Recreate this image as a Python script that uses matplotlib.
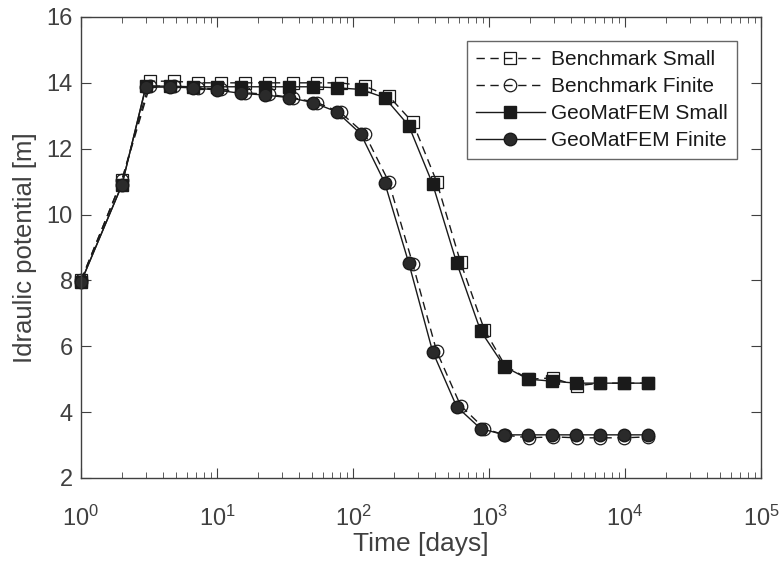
import matplotlib.pyplot as plt

plt.rcParams['font.family'] = ['Liberation Sans', 'DejaVu Sans']
plt.rcParams['mathtext.fontset'] = 'custom'
plt.rcParams['mathtext.rm'] = 'Liberation Sans'
plt.rcParams['mathtext.it'] = 'Liberation Sans:italic'
plt.rcParams['mathtext.bf'] = 'Liberation Sans:bold'

# time steps [days]
t_fem = [1, 2, 3, 4.5, 6.7, 10, 15, 22.5, 34, 51, 76, 114, 171, 257, 385,
         578, 867, 1300, 1950, 2925, 4390, 6580, 9870, 14800]
t_bench = [1, 2, 3.2, 4.8, 7.2, 10.7, 16, 24, 36, 54.5, 81, 122, 183, 275, 412,
           618, 925, 1320, 1970, 2940, 4400, 6600, 9900, 14850]

# hydraulic potential [m]
bench_small = [8.0, 11.05, 14.05, 14.05, 14.0, 14.0, 14.0, 14.0, 14.0, 14.0,
               14.0, 13.9, 13.6, 12.8, 11.0, 8.55, 6.5, 5.4, 5.0, 5.04,
               4.8, 4.88, 4.88, 4.88]
bench_finite = [8.0, 11.05, 13.9, 13.9, 13.85, 13.8, 13.7, 13.65, 13.55, 13.4,
                13.1, 12.45, 11.0, 8.5, 5.85, 4.2, 3.5, 3.3, 3.22, 3.25,
                3.22, 3.22, 3.22, 3.25]
fem_small = [7.95, 10.9, 13.9, 13.9, 13.88, 13.88, 13.88, 13.88, 13.88, 13.88,
             13.85, 13.8, 13.55, 12.7, 10.93, 8.54, 6.47, 5.38, 5.0, 4.94,
             4.88, 4.88, 4.88, 4.88]
fem_finite = [7.95, 10.9, 13.87, 13.87, 13.85, 13.78, 13.68, 13.63, 13.55, 13.4,
              13.12, 12.45, 10.97, 8.53, 5.84, 4.17, 3.5, 3.31, 3.31, 3.31,
              3.31, 3.31, 3.31, 3.31]

grey = '#404040'
ink = '#1a1a1a'
dash = (0, (6, 4))

fig = plt.figure(figsize=(7.81, 5.64), dpi=100)
ax = fig.add_axes([0.1037, 0.1525, 0.8707, 0.8174])

ax.plot(t_bench, bench_small, color=ink, lw=1, ls=dash, marker='s', ms=8,
        mfc='none', mec=ink, mew=0.9, clip_on=False, label='Benchmark Small')
ax.plot(t_bench, bench_finite, color=ink, lw=1, ls=dash, marker='o', ms=9,
        mfc='none', mec=ink, mew=0.9, clip_on=False, label='Benchmark Finite')
ax.plot(t_fem, fem_small, color=ink, lw=1, marker='s', ms=8.5,
        mfc=ink, mec=ink, clip_on=False, label='GeoMatFEM Small')
ax.plot(t_fem, fem_finite, color=ink, lw=1, marker='o', ms=9,
        mfc='#2a2a2a', mec=ink, clip_on=False, label='GeoMatFEM Finite')

ax.set_xscale('log')
ax.set_xlim(1, 1e5)
ax.set_ylim(2, 16)
ax.set_yticks(range(2, 17, 2))

ax.set_xlabel('Time [days]', fontsize=19, color=grey, labelpad=1)
ax.set_ylabel('Idraulic potential [m]', fontsize=18.5, color=grey, labelpad=7)
ax.tick_params(which='both', direction='in', top=True, right=True,
               colors=grey, labelsize=17)
ax.tick_params(axis='x', which='major', pad=20)
ax.tick_params(axis='y', which='major', pad=6)
ax.tick_params(which='major', length=7)
ax.tick_params(which='minor', length=4)
for s in ax.spines.values():
    s.set_color(grey)
    s.set_linewidth(1)

leg = ax.legend(loc='upper right', fontsize=15, handlelength=3.3,
                fancybox=False, borderaxespad=1.15, labelspacing=0.38,
                handletextpad=0.3, borderpad=0.45)
leg.get_frame().set_edgecolor(grey)
leg.get_frame().set_linewidth(1)
for txt in leg.get_texts():
    txt.set_color(ink)

fig.savefig('out.png', dpi=100)
